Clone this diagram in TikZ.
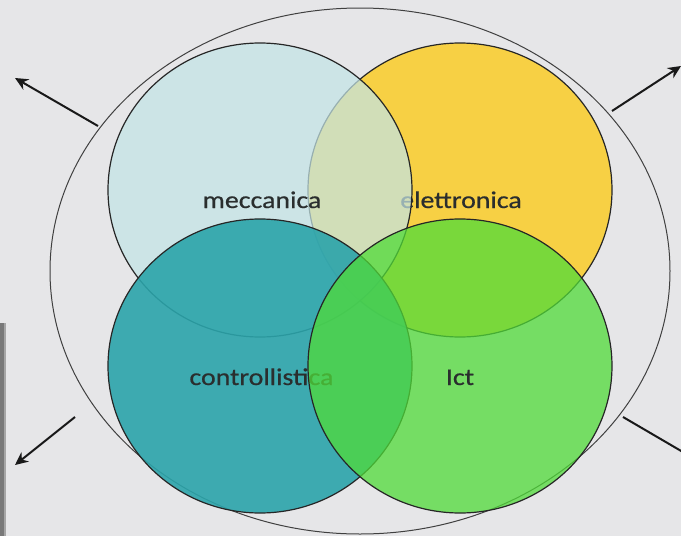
\documentclass[tikz,border=0pt]{standalone}
\usepackage{fontspec}
\newfontfamily\labfont[FakeStretch=1.16,FakeBold=0.6]{Carlito}
\usetikzlibrary{shapes.geometric,arrows.meta}
\definecolor{bgc}{HTML}{E6E6E8}
\definecolor{mecc}{RGB}{195,228,230}
\definecolor{elet}{RGB}{247,208,68}
\definecolor{cont}{RGB}{43,164,170}
\definecolor{ictc}{RGB}{80,219,56}
\definecolor{txt}{HTML}{2A2E2E}
\definecolor{edge}{HTML}{262626}
\tikzset{
  venn/.style={ellipse, draw=edge, line width=1.2pt, minimum width=304pt, minimum height=294pt, inner sep=0pt},
  lab/.style={anchor=base, text=txt, font=\labfont\fontsize{24}{28}\selectfont, inner sep=0pt},
  outarrow/.style={draw=black!90, line width=2pt, -{Stealth[length=13pt,width=12pt]}}
}
\begin{document}
\begin{tikzpicture}[x=1pt,y=-1pt]
\path[fill=bgc] (0,0) rectangle (681,536);
\useasboundingbox (0,0) rectangle (681,536);
\clip (0,0) rectangle (681,536);
% left bar
\fill[gray!95!black] (0,323) rectangle (4,536);
\fill[gray!70] (4,323) rectangle (6,536);
% outer ellipse
\node[ellipse, draw=black!75, line width=1pt, minimum width=620pt, minimum height=526pt, inner sep=0pt] (outer) at (360,271) {};
% circles
\node[venn, fill=elet] (ele) at (460,190) {};
\node[lab] (tele) at (461,208) {elettronica};
\node[venn, fill=mecc, fill opacity=0.72] (mec) at (260,190) {};
\node[lab] (tmec) at (262,208) {meccanica};
\node[venn, fill=cont, fill opacity=0.9] (con) at (260,366) {};
\node[lab] (tcon) at (261.5,385) {controllistica};
\node[venn, fill=ictc, fill opacity=0.75] (ict) at (460,366) {};
\node[lab] (tict) at (460,385) {Ict};
% arrows
\coordinate (a1s) at (98,126); \coordinate (a1e) at (15,78);
\coordinate (a2s) at (612,111); \coordinate (a2e) at (681,66);
\coordinate (a3s) at (75,417); \coordinate (a3e) at (15,465);
\coordinate (a4s) at (623,417); \coordinate (a4e) at (700,462);
\draw[outarrow] (a1s) -- (a1e);
\draw[outarrow] (a2s) -- (a2e);
\draw[outarrow] (a3s) -- (a3e);
\draw[outarrow] (a4s) -- (a4e);
\end{tikzpicture}
\end{document}
